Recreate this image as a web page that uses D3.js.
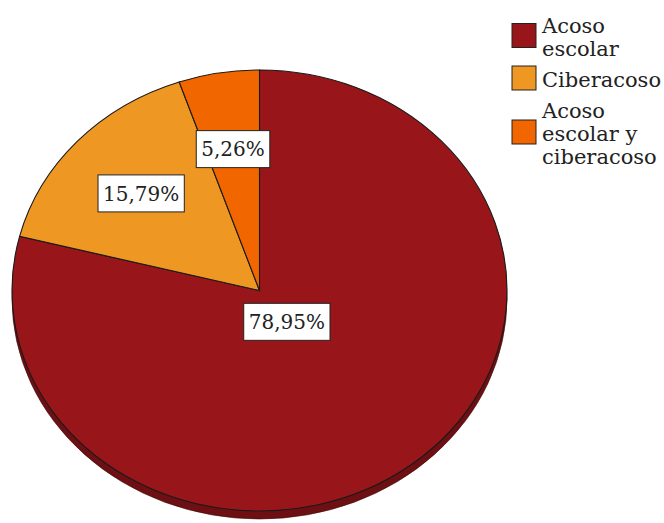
<!DOCTYPE html>
<html>
<head>
<meta charset="utf-8">
<script src="https://cdn.jsdelivr.net/npm/d3@7"></script>
<style>
  body { margin: 0; background: #fff; }
  svg { display: block; }
</style>
</head>
<body>
<div id="chart"></div>
<script>
// values
const categories = ['Acoso escolar', 'Ciberacoso', 'Acoso escolar y ciberacoso'];
const percents = [78.95, 15.79, 5.26];
const labels = ['78,95%', '15,79%', '5,26%'];
const colors = ['#98161a', '#ee9722', '#f26600'];

const width = 664, height = 523;
const cx = 259.5, cy = 290.5, rx = 247.5, ry = 220.5, depth = 8;
const font = '"DejaVu Serif", serif';

const svg = d3.select('#chart').append('svg')
  .attr('width', width)
  .attr('height', height);

const data = categories.map((c, i) => ({ label: c, value: percents[i], text: labels[i], color: colors[i] }));

const pie = d3.pie().sort(null).value(d => d.value);
const arcs = pie(data);
const arc = d3.arc().innerRadius(0).outerRadius(rx);

// 3D rim under the pie
svg.append('ellipse')
  .attr('cx', cx).attr('cy', cy + depth)
  .attr('rx', rx).attr('ry', ry)
  .attr('fill', '#6e1013')
  .attr('stroke', '#3a0a0a')
  .attr('stroke-width', 0.6);

const g = svg.append('g')
  .attr('transform', 'translate(' + cx + ',' + cy + ') scale(1,' + (ry / rx) + ')');

g.selectAll('path.slice')
  .data(arcs)
  .enter().append('path')
    .attr('class', 'slice')
    .attr('d', arc)
    .attr('fill', d => d.data.color)
    .attr('stroke', '#1a1a1a')
    .attr('stroke-width', 1.1)
    .attr('vector-effect', 'non-scaling-stroke');

// percentage labels in white boxes
const labelArc = function(d) {
  const share = d.data.value / d3.sum(percents);
  const r = rx * (share > 0.5 ? 0.18 : 0.65);
  const a = (d.startAngle + d.endAngle) / 2;
  return [cx + r * Math.sin(a), cy - r * Math.cos(a) * (ry / rx)];
};

arcs.forEach(d => {
  const p = labelArc(d);
  const lg = svg.append('g').attr('transform', 'translate(' + p[0] + ',' + p[1] + ')');
  const rect = lg.append('rect');
  const t = lg.append('text')
    .attr('text-anchor', 'middle')
    .attr('dy', '0.36em')
    .style('font-family', font)
    .style('font-size', '20px')
    .attr('fill', '#222')
    .text(d.data.text);
  const w = t.node().getComputedTextLength() + 10;
  const h = 37;
  rect.attr('x', -w / 2).attr('y', -h / 2)
    .attr('width', w).attr('height', h)
    .attr('fill', '#fff')
    .attr('stroke', '#222')
    .attr('stroke-width', 1);
});

// legend
const legend = svg.append('g');
const lineH = 23, maxW = 128, textX = 542;
let baseY = 33;

data.forEach(d => {
  const item = legend.append('g');
  const txt = item.append('text')
    .style('font-family', font)
    .style('font-size', '21px')
    .attr('fill', '#222');

  // simple word wrap
  const words = d.label.split(' ');
  let lines = [], cur = '';
  const probe = item.append('text').style('font-family', font).style('font-size', '21px');
  words.forEach(w => {
    const test = cur ? cur + ' ' + w : w;
    probe.text(test);
    if (cur && probe.node().getComputedTextLength() > maxW) {
      lines.push(cur);
      cur = w;
    } else {
      cur = test;
    }
  });
  lines.push(cur);
  probe.remove();

  lines.forEach((l, i) => {
    txt.append('tspan').attr('x', textX).attr('y', baseY + i * lineH).text(l);
  });

  const lastY = baseY + (lines.length - 1) * lineH;
  const mid = (baseY + lastY) / 2 - 9;
  item.append('rect')
    .attr('x', 512).attr('y', mid - 12)
    .attr('width', 24).attr('height', 24)
    .attr('fill', d.color)
    .attr('stroke', '#222')
    .attr('stroke-width', 1);

  baseY = lastY + 31;
});
</script>
</body>
</html>
